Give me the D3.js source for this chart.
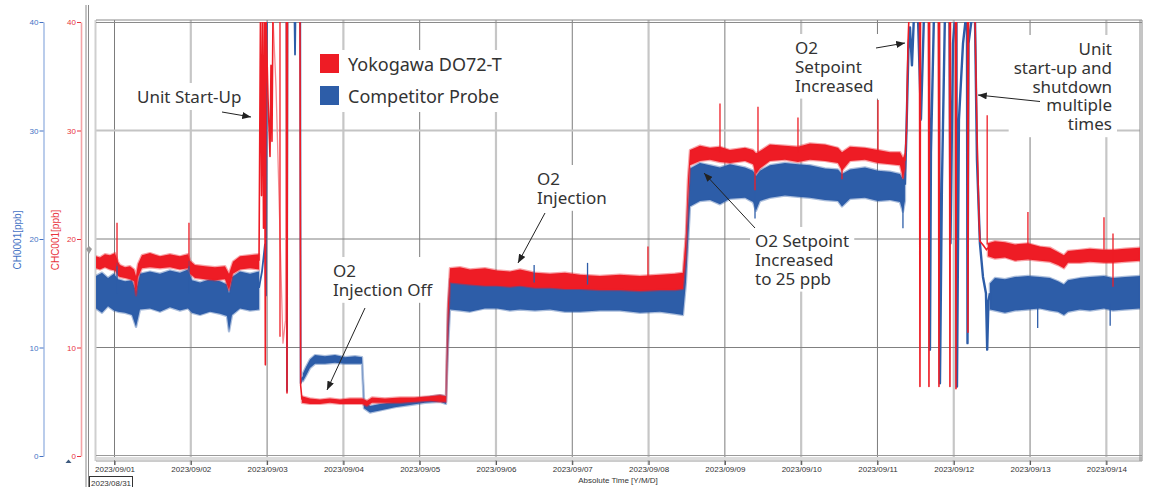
<!DOCTYPE html>
<html><head><meta charset="utf-8">
<script src="https://cdn.jsdelivr.net/npm/d3@7"></script>
<style>body{margin:0;background:#fff}svg{display:block}</style>
</head><body><svg id="c" width="1150" height="487"></svg>
<script>
// ---- DATA (t = days since 2023/09/01 00:00) ----
const seriesNames = ["Yokogawa DO72-T", "Competitor Probe"];
const yTicks = [0, 10, 20, 30, 40];
const xTickDays = ["2023-09-01","2023-09-02","2023-09-03","2023-09-04","2023-09-05","2023-09-06","2023-09-07",
  "2023-09-08","2023-09-09","2023-09-10","2023-09-11","2023-09-12","2023-09-13","2023-09-14"];
const startDateLabel = "2023/08/31";
const timeRange = [-0.2425, 13.441];

// noisy steady periods: [t, low, high]
const yokoBandA = [[-0.242,17.3,18.4],[-0.190,17.2,18.3],[-0.125,17.4,18.6],[-0.059,17.2,18.5],[0.007,17.1,18.7],
  [0.046,16.6,17.9],[0.072,16.5,17.6],[0.138,16.4,17.4],[0.203,16.3,17.5],[0.256,16.1,17.2],[0.282,14.8,16.6],
  [0.308,16.5,17.7],[0.360,17.3,18.5],[0.465,17.4,18.7],[0.596,17.3,18.4],[0.727,17.4,18.6],[0.858,17.2,18.4],
  [0.963,17.3,18.6],[0.990,16.8,18.0],[1.055,16.4,17.6],[1.186,16.3,17.5],[1.317,16.2,17.4],[1.448,16.3,17.5],
  [1.501,15.3,16.8],[1.553,16.8,17.9],[1.645,17.2,18.4],[1.776,17.3,18.5],[1.894,17.2,18.6]];
const compBandA = [[-0.242,13.6,16.6],[-0.164,13.2,16.9],[-0.085,13.8,16.4],[-0.007,13.4,16.8],[0.046,13.3,16.3],
  [0.138,13.2,16.1],[0.229,13.0,16.2],[0.282,11.9,15.2],[0.334,13.5,16.8],[0.465,13.6,17.0],[0.596,13.3,16.8],
  [0.727,13.7,17.1],[0.858,13.4,16.9],[0.963,13.6,17.2],[1.016,13.2,16.2],[1.121,13.0,16.0],[1.252,13.3,16.3],
  [1.383,13.1,16.1],[1.474,12.9,15.8],[1.501,11.5,15.0],[1.540,13.0,16.5],[1.645,13.6,17.0],[1.776,13.4,16.8],
  [1.894,13.5,17.0]];
const yokoBandB = [[2.457,4.9,5.5],[2.562,4.8,5.3],[2.693,4.8,5.2],[2.824,4.9,5.3],[2.955,4.8,5.2],[3.087,4.8,5.3],
  [3.244,4.8,5.3],[3.309,4.6,5.1],[3.375,4.9,5.4],[3.545,4.9,5.3],[3.742,4.9,5.4],[3.938,5.0,5.4],[4.135,5.1,5.5],
  [4.266,5.0,5.6],[4.345,5.0,5.5],[4.371,12.0,14.0],[4.397,16.0,17.3],[4.528,15.9,17.4],[4.659,15.8,17.2],
  [4.856,15.7,17.3],[5.013,15.7,17.1],[5.183,15.6,17.0],[5.315,15.7,17.2],[5.511,15.5,16.9],[5.708,15.5,16.8],
  [5.904,15.4,16.9],[6.101,15.4,16.7],[6.363,15.3,16.6],[6.625,15.3,16.7],[6.887,15.2,16.6],[7.149,15.3,16.7],
  [7.346,15.3,16.8],[7.451,15.4,16.9],[7.490,18.5,20.5],[7.516,23.5,25.5],[7.543,26.8,28.2],[7.674,27.2,28.6],
  [7.805,27.3,28.4],[7.936,27.1,28.5],[8.067,27.0,28.2],[8.264,27.2,28.4],[8.369,26.9,28.2],[8.408,26.0,27.9],
  [8.460,26.5,28.1],[8.591,27.2,28.7],[8.788,27.3,28.6],[8.958,27.1,28.5],[9.115,27.3,28.8],[9.312,27.2,28.7],
  [9.482,27.0,28.4],[9.535,26.3,28.0],[9.640,27.2,28.5],[9.836,27.3,28.4],[10.007,27.0,28.2],[10.164,26.9,28.0],
  [10.295,26.8,28.0],[10.334,25.6,27.5],[10.360,26.5,27.8]];
const compBandB = [[2.470,6.9,7.6],[2.510,7.4,8.2],[2.562,8.1,8.9],[2.628,8.5,9.3],[2.759,8.5,9.2],[2.890,8.6,9.3],
  [3.021,8.5,9.1],[3.152,8.5,9.2],[3.244,8.5,9.1],[3.270,4.4,5.2],[3.349,4.0,4.6],[3.480,4.2,4.8],[3.677,4.5,5.0],
  [3.873,4.7,5.2],[4.069,4.9,5.4],[4.266,5.0,5.6],[4.345,4.8,5.5],[4.371,10.0,13.5],[4.397,13.5,16.3],
  [4.528,13.4,16.5],[4.659,13.3,16.3],[4.856,13.6,16.7],[5.013,13.6,16.6],[5.183,13.4,16.4],[5.315,13.5,16.5],
  [5.511,13.4,16.3],[5.708,13.5,16.2],[5.904,13.3,16.1],[6.101,13.3,16.0],[6.363,13.4,15.9],[6.625,13.4,15.8],
  [6.887,13.2,15.9],[7.149,13.3,15.9],[7.346,13.1,16.0],[7.451,13.0,16.0],[7.490,16.0,19.0],[7.516,19.5,23.0],
  [7.543,23.0,26.5],[7.674,23.5,27.0],[7.805,23.6,26.8],[7.936,23.2,26.6],[8.067,23.7,26.9],[8.264,23.8,26.6],
  [8.369,23.4,26.3],[8.408,22.6,25.8],[8.460,23.5,26.3],[8.591,23.8,26.8],[8.788,24.0,27.0],[8.958,23.9,26.9],
  [9.115,23.8,26.8],[9.312,23.6,26.5],[9.482,23.5,26.4],[9.535,23.0,26.0],[9.640,23.7,26.4],[9.836,23.8,26.6],
  [10.007,23.5,26.3],[10.164,23.6,26.2],[10.295,23.4,26.0],[10.334,22.5,25.5],[10.360,23.5,26.0]];
const yokoBandC = [[11.448,18.4,19.6],[11.540,18.2,19.8],[11.671,18.3,19.7],[11.802,18.0,19.5],[11.972,18.1,19.6],
  [12.129,18.0,19.3],[12.261,17.9,19.2],[12.366,17.6,18.8],[12.444,17.3,18.5],[12.497,17.8,18.9],[12.654,17.8,19.0],
  [12.785,17.9,19.1],[12.969,17.8,19.0],[13.087,17.8,19.0],[13.244,17.9,19.1],[13.441,18.0,19.2]];
const compBandC = [[11.474,13.5,15.9],[11.540,13.4,16.4],[11.671,13.2,16.3],[11.802,13.4,16.5],[11.972,13.5,16.6],
  [12.129,13.6,16.5],[12.261,13.4,16.4],[12.366,13.3,16.1],[12.444,13.0,15.8],[12.497,13.3,16.2],[12.654,13.5,16.4],
  [12.785,13.4,16.5],[12.969,13.6,16.6],[13.087,13.4,16.4],[13.244,13.5,16.5],[13.441,13.6,16.6]];

// transient periods (start-up, start/stop cycles): [t, value]
const yokoStartUp = [[1.894,18.0],[1.913,40.5],[1.927,24],[1.940,40.5],[1.953,21],[1.966,40.5],[1.977,8.4],
  [1.986,40.5],[2.012,33],[2.038,27.6],[2.051,36],[2.064,29],[2.077,40.5]];
const yokoStartUpDecay = [[2.077,40.5],[2.117,34],[2.156,24],[2.182,17],[2.208,10.4],[2.241,12.5],[2.254,40.5]];
const yokoStartUpEnd = [[2.254,40.5],[2.261,5.8],[2.267,40.5],[2.431,40.5],[2.440,6.5],[2.457,5.2]];
const compStartUp = [[1.894,15.5],[1.933,17],[1.972,19.5],[1.986,14.8],[1.999,40.5],[2.254,40.5],[2.261,6.0],
  [2.267,40.5],[2.359,40.5],[2.366,37],[2.372,40.5],[2.435,40.5],[2.440,6.7],[2.470,7.3]];
const yokoCycles = [[10.360,27.2],[10.380,30],[10.400,38],[10.413,40.5],[10.551,40.5],[10.557,6.4],[10.564,40.5],
  [10.669,40.5],[10.675,6.4],[10.682,40.5],[10.799,40.5],[10.806,6.4],[10.813,40.5],[10.944,40.5],[10.950,6.4],
  [10.957,40.5],[11.022,40.5],[11.029,6.2],[11.035,40.5],[11.180,40.5],[11.186,11.4],[11.193,40.5],[11.278,40.5],
  [11.304,30],[11.330,22],[11.343,19.8],[11.389,19.4],[11.429,19.0],[11.448,19.2]];
const compCycles = [[10.360,25.0],[10.380,30],[10.406,37.5],[10.426,39.5],[10.452,36],[10.478,40.5],[10.531,40.5],
  [10.570,31],[10.609,40.5],[10.675,40.5],[10.688,9.8],[10.701,28],[10.740,40.5],[10.806,40.5],[10.819,6.7],
  [10.845,25],[10.884,40.5],[10.944,40.5],[10.957,19.6],[10.990,38],[11.016,40.5],[11.035,40.5],[11.042,6.4],
  [11.068,31],[11.121,38],[11.160,40.5],[11.173,40.5],[11.180,10.4],[11.193,38],[11.239,40.5],[11.278,40.5],
  [11.304,27.3],[11.343,19.6],[11.383,16.5],[11.422,15.0],[11.438,9.8],[11.455,14.3],[11.474,15.0]];

// isolated spikes: [t, from, to]
const yokoSpikes = [[0.033,17.5,21.5],[0.976,17.5,21.5],[2.169,11,40.5],[6.992,16.5,19.3],[7.936,28,32.5],
  [8.395,24.5,27],[8.434,28,32.2],[8.958,28,31.2],[9.535,25.5,27],[10.007,28,32.8],[10.334,25.6,27],
  [11.438,19.5,31.4],[11.972,19.5,22.5],[12.969,19,22],[13.087,15.6,20.5]];
const compSpikes = [[0.033,15,17.8],[0.976,15,18.0],[5.5,16,17.6],[6.2,15.8,17.8],[8.395,21.9,25],
  [10.334,21.0,24],[12.1,11.8,14],[13.05,12.0,14]];

// ---- RENDER ----
const RED = "#ee1c25", BLUE = "#2d5da8", PINK = "#f58c92";
const base = new Date(2023, 8, 1);
const toDate = t => new Date(base.getTime() + t * 864e5);
const svg = d3.select("#c");
const L = 96, R = 1140, T = 22, B = 456;
const x = d3.scaleTime().domain(timeRange.map(toDate)).range([L, R]);
const y = d3.scaleLinear().domain([0, 40]).range([B, T]);
const tickDates = xTickDays.map(s => { const p = s.split("-").map(Number); return new Date(p[0], p[1]-1, p[2]); });
const SANS = "Liberation Sans, Arial, sans-serif";

svg.append("defs").html(`<clipPath id="pc"><rect x="${L}" y="${T}" width="${R-L}" height="${B-T}"/></clipPath>
<marker id="ah" viewBox="0 0 10 8" refX="10" refY="4" markerWidth="9" markerHeight="7" markerUnits="userSpaceOnUse" orient="auto"><path d="M0,0L10,4L0,8z" fill="#222"/></marker>`);

// gridlines
const grid = svg.append("g");
tickDates.forEach((d, i) => {
  grid.append("line").attr("x1", x(d)).attr("x2", x(d)).attr("y1", 20).attr("y2", 465)
    .attr("stroke", i % 2 === 0 ? "#7c7c7c" : "#c6c6c6").attr("stroke-width", i % 2 === 0 ? 1 : 2.2);
});
[10, 20].forEach(v => grid.append("line").attr("x1", L).attr("x2", R).attr("y1", y(v)).attr("y2", y(v)).attr("stroke", "#808080"));
grid.append("line").attr("x1", L).attr("x2", R).attr("y1", y(30)).attr("y2", y(30)).attr("stroke", "#c4c4c4").attr("stroke-width", 2);

// frame lines
const fr = svg.append("g");
fr.append("line").attr("x1",86).attr("x2",86).attr("y1",5).attr("y2",487).attr("stroke","#8a8a8a");
fr.append("line").attr("x1",88.5).attr("x2",88.5).attr("y1",5).attr("y2",487).attr("stroke","#8a8a8a");
fr.append("line").attr("x1",95.5).attr("x2",95.5).attr("y1",20).attr("y2",461).attr("stroke","#cfcfcf").attr("stroke-width",2);
fr.append("rect").attr("x",L).attr("y",457).attr("width",R-L+2).attr("height",3).attr("fill","#dcdcdc");
[20, 22.5].forEach(yy => fr.append("line").attr("x1", L).attr("x2", R+2).attr("y1", yy).attr("y2", yy).attr("stroke", "#8a8a8a"));
[455.5, 461].forEach(yy => fr.append("line").attr("x1", L).attr("x2", R+2).attr("y1", yy).attr("y2", yy).attr("stroke", "#9a9a9a"));
[R, R+2].forEach(xx => fr.append("line").attr("x1", xx).attr("x2", xx).attr("y1", 20).attr("y2", 461).attr("stroke", "#8a8a8a"));

// annotation white boxes layer (under data)
const boxLayer = svg.append("g");

// data
const plot = svg.append("g").attr("clip-path", "url(#pc)");
const area = d3.area().x(d => x(toDate(d[0]))).y0(d => y(d[1])).y1(d => y(d[2]));
const line = d3.line().x(d => x(toDate(d[0]))).y(d => y(d[1]));
function band(data, col) {
  plot.append("path").datum(data).attr("d", area).attr("fill", col)
    .attr("stroke", col).attr("stroke-width", 2.4).attr("stroke-opacity", 0.4).attr("stroke-linejoin", "round");
}
function trans(data, col, w) {
  plot.append("path").datum(data).attr("d", line).attr("fill", "none").attr("stroke", col).attr("stroke-width", w).attr("stroke-linejoin", "round");
}
function spikes(data, col) {
  plot.selectAll(null).data(data).enter().append("line")
    .attr("x1", d => x(toDate(d[0]))).attr("x2", d => x(toDate(d[0])))
    .attr("y1", d => y(d[1])).attr("y2", d => y(d[2])).attr("stroke", col).attr("stroke-width", 1.3);
}
trans(compStartUp, BLUE, 1.8); trans(compCycles, BLUE, 2.4);
band(compBandA, BLUE); band(compBandB, BLUE); band(compBandC, BLUE);
band(yokoBandA, RED); band(yokoBandB, RED); band(yokoBandC, RED);
trans(yokoStartUpDecay, PINK, 1.3);
trans(yokoStartUp, RED, 1.6); trans(yokoStartUpEnd, RED, 1.6); trans(yokoCycles, RED, 1.6);
spikes(compSpikes, BLUE); spikes(yokoSpikes, RED);

// x axis
const xa = svg.append("g").attr("transform", `translate(0,461)`)
  .call(d3.axisBottom(x).tickValues(tickDates).tickSize(4).tickSizeOuter(0).tickFormat(d3.timeFormat("%Y/%m/%d")));
xa.select(".domain").remove();
xa.selectAll("line").attr("stroke", "#555");
xa.selectAll("text").attr("font-family", SANS).attr("font-size", 8).attr("fill", "#333").attr("dy", "0.55em");
svg.append("text").attr("x", 618).attr("y", 483).attr("text-anchor", "middle")
  .attr("font-family", SANS).attr("font-size", 8).attr("fill", "#333").text("Absolute Time [Y/M/D]");
svg.append("rect").attr("x", 89.5).attr("y", 476.5).attr("width", 43).attr("height", 12).attr("fill", "#fff").attr("stroke", "#333");
svg.append("text").attr("x", 91).attr("y", 485.5).attr("font-family", SANS).attr("font-size", 8).attr("fill", "#333").text(startDateLabel);

// y axes
function yAxis(xpos, lineCol, col, title, tx) {
  const g = svg.append("g").attr("transform", `translate(${xpos},0)`)
    .call(d3.axisLeft(y).tickValues(yTicks).tickSize(4).tickSizeOuter(0).tickPadding(1));
  g.select(".domain").attr("stroke", lineCol).attr("stroke-width", 1.6);
  g.selectAll(".tick line").attr("stroke", col);
  g.selectAll("text").attr("fill", col).attr("font-family", SANS).attr("font-size", 8);
  svg.append("text").attr("transform", `translate(${tx},240) rotate(-90)`).attr("text-anchor", "middle")
    .attr("dy", "0.35em").attr("font-family", SANS).attr("font-size", 10).attr("fill", col).text(title);
}
yAxis(43.5, "#a9c0e6", "#4472c4", "CH0001[ppb]", 17);
yAxis(81, "#f4a3a6", "#e8343c", "CHC001[ppb]", 55);
svg.append("path").attr("d", "M65.5,463 L68.5,459.5 L71.5,463 Z").attr("fill", "#3d5a7e");
svg.append("path").attr("d", "M86,249 L89,246 L92,249 L89,254 Z").attr("fill", "#9a9a9a");

// legend
boxLayer.append("rect").attr("x", 313).attr("y", 50).attr("width", 188).attr("height", 62).attr("fill", "#fff");
[RED, BLUE].forEach((c, i) => {
  svg.append("rect").attr("x", 320).attr("y", 54 + i * 32).attr("width", 19).attr("height", 19).attr("fill", c);
  svg.append("text").attr("x", 348).attr("y", 71 + i * 32).attr("font-family", "Noto Sans, sans-serif")
    .attr("font-size", 18).attr("fill", "#333").text(seriesNames[i]);
});

// annotations
const notes = [
  {lines: ["Unit Start-Up"], x: 137, y: 103, anchor: "start", arrow: [222, 112, 251, 117]},
  {lines: ["O2", "Injection Off"], x: 333, y: 277, anchor: "start", arrow: [365, 308, 327, 390]},
  {lines: ["O2", "Injection"], x: 537, y: 185, anchor: "start", arrow: [545, 213, 518, 263]},
  {lines: ["O2 Setpoint", "Increased", "to 25 ppb"], x: 755, y: 247, anchor: "start", arrow: [755, 228, 704, 173]},
  {lines: ["O2", "Setpoint", "Increased"], x: 795, y: 54, anchor: "start", arrow: [876, 48, 905, 43]},
  {lines: ["Unit", "start-up and", "shutdown", "multiple", "times"], x: 1112, y: 55, anchor: "end", arrow: [1040, 101.5, 978, 95]}
];
notes.forEach(n => {
  const g = svg.append("g");
  n.lines.forEach((s, i) => g.append("text").attr("font-family", "Noto Sans, sans-serif").attr("font-size", 17)
    .attr("fill", "#333").attr("text-anchor", n.anchor).attr("x", n.x).attr("y", n.y + i * 18.8).text(s));
  const bb = g.node().getBBox();
  boxLayer.append("rect").attr("x", bb.x - 5).attr("y", bb.y - 2).attr("width", bb.width + 10).attr("height", bb.height + 4).attr("fill", "#fff");
  const a = n.arrow;
  svg.append("line").attr("x1", a[0]).attr("y1", a[1]).attr("x2", a[2]).attr("y2", a[3])
    .attr("stroke", "#222").attr("stroke-width", 1).attr("marker-end", "url(#ah)");
});
</script></body></html>
